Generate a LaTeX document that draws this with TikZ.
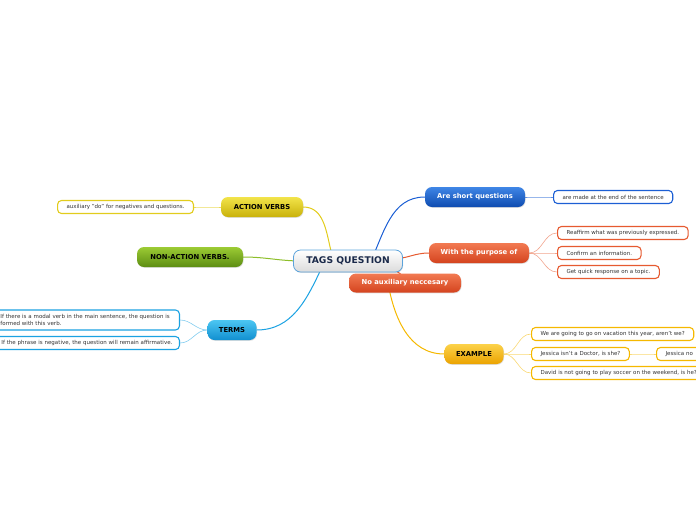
\documentclass[tikz,border=0pt]{standalone}
\usepackage{fontspec}
\setmainfont{DejaVu Sans}
\usetikzlibrary{shadows}
\pgfdeclarelayer{bg}
\pgfsetlayers{bg,main}
\definecolor{asqT}{HTML}{3F86E6}\definecolor{asqB}{HTML}{0E4BB0}
\definecolor{orT}{HTML}{F27A52}\definecolor{orB}{HTML}{D4431E}
\definecolor{exT}{HTML}{FCD24A}\definecolor{exB}{HTML}{EBA300}
\definecolor{tmT}{HTML}{4CC6F2}\definecolor{tmB}{HTML}{118FD0}
\definecolor{acT}{HTML}{F2E44A}\definecolor{acB}{HTML}{C9B10A}
\definecolor{naT}{HTML}{9CCB34}\definecolor{naB}{HTML}{5C8D12}
\definecolor{blueL}{HTML}{1C5FD4}\definecolor{orL}{HTML}{E65A30}
\definecolor{exL}{HTML}{F5B800}\definecolor{tmL}{HTML}{1BA2E2}
\definecolor{acL}{HTML}{E2CC1C}\definecolor{naL}{HTML}{8DBE2A}
\definecolor{tagB}{HTML}{5BA3DB}\definecolor{tagT}{HTML}{1B2A4A}
\begin{document}
\begin{tikzpicture}[x=1pt,y=1pt,
  mainbox/.style={rounded corners=7pt, minimum height=20pt, inner sep=0pt,
    font=\fontsize{6.8}{7.5}\selectfont\bfseries,
    drop shadow={shadow xshift=0.6pt,shadow yshift=-0.8pt,opacity=0.25}},
  leaf/.style={draw, fill=white, rounded corners=4pt, line width=1.1pt,
    minimum height=13pt, inner xsep=9pt, inner ysep=0pt,
    font=\fontsize{5.5}{7}\selectfont, text=black!80, align=left},
  conn/.style={line width=1pt},
  sub/.style={line width=0.6pt}]
\useasboundingbox (0,-520) rectangle (696,0);
% central
\node[mainbox, draw=tagB, line width=0.8pt, top color=white, bottom color=black!14,
  minimum width=109pt, minimum height=22pt, text=tagT, font=\fontsize{9.2}{10}\selectfont\bfseries]
  (tags) at (348,-261) {TAGS QUESTION};
% right branches
\node[mainbox, top color=asqT, bottom color=asqB, text=white, minimum width=100pt]
  (asq) at (475,-197) {Are short questions};
\node[leaf, draw=blueL, anchor=west] (asqc) at (553,-197) {are made at the end of the sentence};
\node[mainbox, top color=orT, bottom color=orB, text=white, minimum width=100pt]
  (wpo) at (479,-253) {With the purpose of};
\node[leaf, draw=orL, anchor=west] (r1) at (557,-233) {Reaffirm what was previously expressed.};
\node[leaf, draw=orL, anchor=west] (r2) at (557,-253) {Confirm an information.};
\node[leaf, draw=orL, anchor=west] (r3) at (557,-272) {Get quick response on a topic.};
\node[mainbox, top color=exT, bottom color=exB, text=black, minimum width=59pt]
  (ex) at (474,-354) {EXAMPLE};
\node[leaf, draw=exL, anchor=west] (e1) at (531,-334) {We are going to go on vacation this year, aren't we?};
\node[leaf, draw=exL, anchor=west] (e2) at (531,-354) {Jessica isn't a Doctor, is she?};
\node[leaf, draw=exL, anchor=west, text width=40pt] (e2b) at (656,-354) {Jessica no};
\node[leaf, draw=exL, anchor=west, text width=162pt] (e3) at (531,-373) {David is not going to play soccer on the weekend, is he?};
% left branches
\node[mainbox, top color=tmT, bottom color=tmB, text=black, minimum width=49pt]
  (terms) at (232,-330) {TERMS};
\node[leaf, draw=tmL, anchor=east, minimum height=20pt, text width=170pt] (t1) at (180,-320)
  {If there is a modal verb in the main sentence, the question is\\formed with this verb.};
\node[leaf, draw=tmL, anchor=east, inner xsep=7pt, text width=171pt] (t2) at (180,-343) {If the phrase is negative, the question will remain affirmative.};
\node[mainbox, top color=acT, bottom color=acB, text=black, minimum width=82pt]
  (act) at (262,-207) {ACTION VERBS};
\node[leaf, draw=acL, anchor=east] (a1) at (194,-207) {auxiliary "do" for negatives and questions.};
\node[mainbox, top color=naT, bottom color=naB, text=black, minimum width=106pt]
  (nact) at (190,-257) {NON-ACTION VERBS.};
% no auxiliary (drawn on top of the centre)
\node[mainbox, top color=orT, bottom color=orB, text=white, minimum width=112pt, minimum height=19pt]
  (noaux) at (405,-283) {No auxiliary neccesary};
\begin{pgfonlayer}{bg}
  \draw[conn, blueL] ([xshift=22pt,yshift=-2pt]tags.center) to[out=65,in=180] (asq.west);
  \draw[conn, orL] ([xshift=44pt,yshift=2pt]tags.center) to[out=0,in=180] (wpo.west);
  \draw[conn, orL] ([xshift=36pt]tags.center) to[out=-60,in=90] (noaux.center);
  \draw[conn, exL] ([xshift=40pt,yshift=-22pt]tags.center) to[out=-80,in=180] (ex.west);
  \draw[conn, tmL] ([xshift=-26pt,yshift=-6pt]tags.center) to[out=-115,in=0] (terms.east);
  \draw[conn, acL] ([xshift=-16pt,yshift=6pt]tags.center) to[out=105,in=0] (act.east);
  \draw[conn, naL] ([xshift=-46pt]tags.center) to[out=180,in=0] (nact.east);
  \draw[sub, blueL!70] (asq.east) to[out=0,in=180] (asqc.west);
  \draw[sub, orL!55] (wpo.east) to[out=0,in=180] (r1.west);
  \draw[sub, orL!55] (wpo.east) to[out=0,in=180] (r2.west);
  \draw[sub, orL!55] (wpo.east) to[out=0,in=180] (r3.west);
  \draw[sub, exL!55] (ex.east) to[out=0,in=180] (e1.west);
  \draw[sub, exL!55] (ex.east) to[out=0,in=180] (e2.west);
  \draw[sub, exL!55] (ex.east) to[out=0,in=180] (e3.west);
  \draw[sub, exL!55] (e2.east) to[out=0,in=180] (e2b.west);
  \draw[sub, tmL!55] (terms.west) to[out=180,in=0] (t1.east);
  \draw[sub, tmL!55] (terms.west) to[out=180,in=0] (t2.east);
  \draw[sub, acL!70] (act.west) to[out=180,in=0] (a1.east);
\end{pgfonlayer}
\end{tikzpicture}
\end{document}
